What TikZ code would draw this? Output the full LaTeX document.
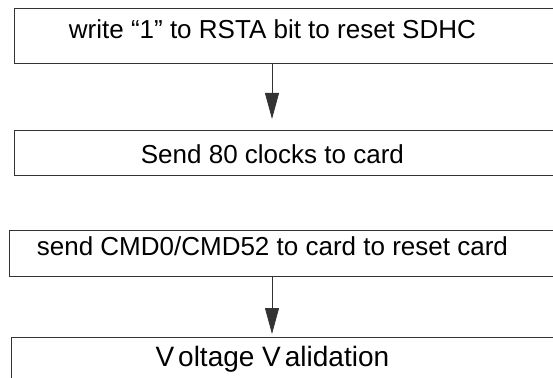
\documentclass[tikz,border=0pt]{standalone}
\usepackage{fontspec}
\setmainfont{Liberation Sans}
\usetikzlibrary{arrows.meta,positioning}
\definecolor{Edge}{HTML}{333333}
% box text is centred at x=272, boxes run past the right border
\newcommand\steptext[2]{\makebox[#1]{#2}\rule{80pt}{0pt}}
\tikzset{
  stepbox/.style={rectangle, draw=Edge, line width=0.8pt, inner sep=0pt,
    anchor=north west, font=\fontsize{26}{30}\selectfont},
  flowarrow/.style={-{Triangle[length=26pt,width=14pt]}, line width=0.8pt, draw=Edge, fill=black}
}
\begin{document}
\begin{tikzpicture}[x=1pt,y=-1pt]
  \useasboundingbox (0,0) rectangle (553,377);
  \clip (0,0) rectangle (553,377);
  \node[stepbox, text height=30pt, text depth=25pt] (reset) at (14,8)
    {\steptext{516pt}{write “1” to RSTA bit to reset SDHC}};
  \node[stepbox, text height=33pt, text depth=12pt] (clocks) at (14,130)
    {\steptext{516pt}{Send 80 clocks to card}};
  \node[stepbox, text height=25pt, text depth=21pt] (cmd) at (9,230)
    {\steptext{526pt}{send CMD0/CMD52 to card to reset card}};
  \node[stepbox, text height=29pt, text depth=30pt, font=\fontsize{28}{32}\selectfont] (volt) at (11,337)
    {\steptext{522pt}{V\kern4pt oltage V\kern4pt alidation}};
  \draw[flowarrow, shorten >=11pt] ([xshift=258pt]reset.south west) -- ([xshift=258pt]clocks.north west);
  \draw[flowarrow, shorten >=3pt] ([xshift=263pt]cmd.south west) -- ([xshift=261pt]volt.north west);
\end{tikzpicture}
\end{document}
